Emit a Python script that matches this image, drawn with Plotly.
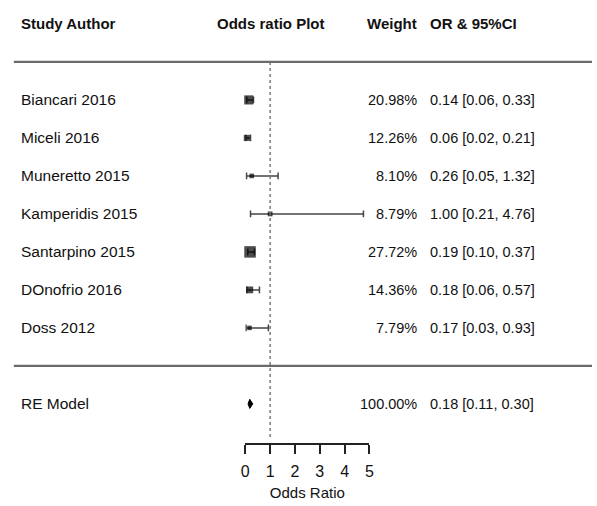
import plotly.graph_objects as go

# Study-level data
studies = ["Biancari 2016", "Miceli 2016", "Muneretto 2015", "Kamperidis 2015",
           "Santarpino 2015", "DOnofrio 2016", "Doss 2012"]
odds_ratio = [0.14, 0.06, 0.26, 1.00, 0.19, 0.18, 0.17]
ci_lower = [0.06, 0.02, 0.05, 0.21, 0.10, 0.06, 0.03]
ci_upper = [0.33, 0.21, 1.32, 4.76, 0.37, 0.57, 0.93]
weights = [20.98, 12.26, 8.10, 8.79, 27.72, 14.36, 7.79]

# Random-effects summary
re_label = "RE Model"
re_or, re_lower, re_upper, re_weight = 0.18, 0.11, 0.30, 100.00

x_ticks = [0, 1, 2, 3, 4, 5]
headers = ["Study Author", "Odds ratio Plot", "Weight", "OR & 95%CI"]

W, H = 597, 506
FONT = "Liberation Sans, Arial, sans-serif"
k = len(studies)
rows = list(range(k, 0, -1))       # studies on rows k..1
re_row = -1                        # summary row below separator at 0
header_row = k + 2

fig = go.Figure()

# CI whiskers with end caps, drawn first so the squares sit on top
cap = 0.09
wx, wy = [], []
for r, lo, hi in zip(rows, ci_lower, ci_upper):
    wx += [lo, hi, None, lo, lo, None, hi, hi, None]
    wy += [r, r, None, r - cap, r + cap, None, r - cap, r + cap, None]
fig.add_trace(go.Scatter(
    x=wx, y=wy, mode="lines", line=dict(color="#444", width=1.5),
    cliponaxis=False, showlegend=False, hoverinfo="skip"))

# study squares sized by weight
sizes = [4.5 + 0.35 * (w - min(weights)) for w in weights]
fig.add_trace(go.Scatter(
    x=odds_ratio, y=rows, mode="markers",
    marker=dict(symbol="square", size=sizes, color="black", line=dict(width=0)),
    cliponaxis=False, showlegend=False, hoverinfo="skip"))

# summary diamond
dh = 0.12
fig.add_trace(go.Scatter(
    x=[re_lower, re_or, re_upper, re_or, re_lower],
    y=[re_row, re_row + dh, re_row, re_row - dh, re_row],
    mode="lines", fill="toself", fillcolor="black",
    line=dict(color="black", width=1), cliponaxis=False,
    showlegend=False, hoverinfo="skip"))

# reference line at OR = 1
fig.add_shape(type="line", xref="x", yref="y", x0=1, x1=1, y0=k + 1, y1=-1.95,
              line=dict(color="#777", width=1.5, dash="dot"))

# horizontal separators
for r in (k + 1, 0):
    fig.add_shape(type="line", xref="paper", yref="y", x0=10 / W, x1=1, y0=r, y1=r,
                  line=dict(color="#6a6a6a", width=2.2))

annotations = []
def txt(x, y, s, anchor, size, bold=False):
    annotations.append(dict(
        x=x, y=y, xref="paper", yref="y", text=f"<b>{s}</b>" if bold else s,
        showarrow=False, xanchor=anchor, yanchor="middle",
        font=dict(family=FONT, size=size, color="#111")))

LEFT, WRIGHT, ORLEFT = 15 / W, 421 / W, 430 / W

# header row
txt(LEFT, header_row, headers[0], "left", 15, True)
txt(271 / W, header_row, headers[1], "center", 15, True)
txt(WRIGHT, header_row, headers[2], "right", 15, True)
txt(ORLEFT, header_row, headers[3], "left", 15, True)

# study rows
for name, r, o, lo, hi, w in zip(studies, rows, odds_ratio, ci_lower, ci_upper, weights):
    txt(LEFT, r, name, "left", 15.5)
    txt(WRIGHT, r, f"{w:.2f}%", "right", 14.5)
    txt(ORLEFT, r, f"{o:.2f} [{lo:.2f}, {hi:.2f}]", "left", 14.5)

# summary row
txt(LEFT, re_row, re_label, "left", 15.5)
txt(WRIGHT, re_row, f"{re_weight:.2f}%", "right", 14.5)
txt(ORLEFT, re_row, f"{re_or:.2f} [{re_lower:.2f}, {re_upper:.2f}]", "left", 14.5)

fig.update_layout(
    width=W, height=H, margin=dict(l=0, r=0, t=0, b=63),
    paper_bgcolor="white", plot_bgcolor="white",
    annotations=annotations,
    xaxis=dict(domain=[245 / W, 371 / W], range=[0, 5], tickvals=x_ticks,
               ticktext=[str(t) for t in x_ticks],
               showline=True, linecolor="#222", linewidth=1.5,
               ticks="outside", ticklen=9, tickwidth=1.5, tickcolor="#222",
               ticklabelstandoff=4,
               showgrid=False, zeroline=False,
               tickfont=dict(family=FONT, size=16, color="#111"),
               title=dict(text="Odds Ratio", standoff=9,
                          font=dict(family=FONT, size=15, color="#111"))),
    yaxis=dict(range=[-2.03, 9.63], visible=False, fixedrange=True),
)

fig.write_html("out.html")
